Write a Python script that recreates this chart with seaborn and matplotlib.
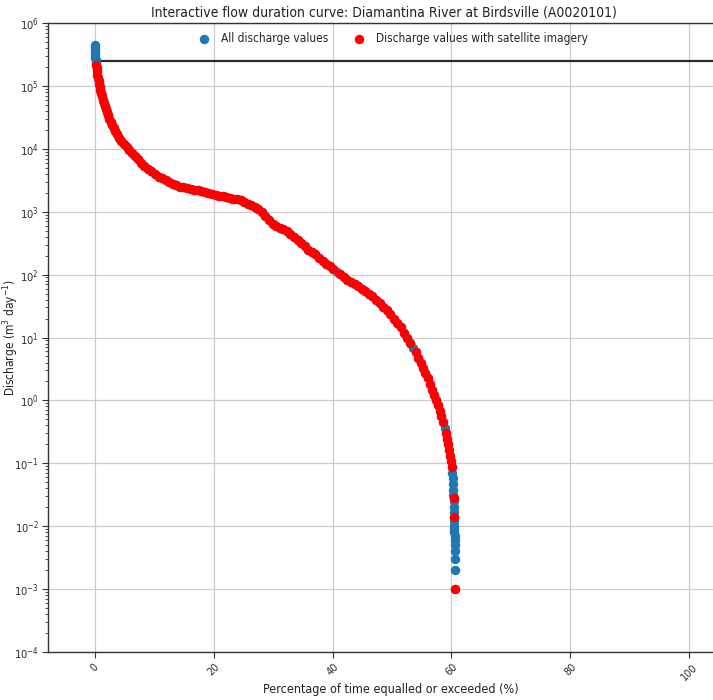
import numpy as np
import pandas as pd
import matplotlib
matplotlib.use("Agg")
import matplotlib.pyplot as plt
from matplotlib.ticker import NullFormatter
import seaborn as sns

# Flow duration curve for the Diamantina River at Birdsville (A0020101):
# percentage of time each discharge is equalled or exceeded.
exceedance_pct = [
    0.02, 0.03, 0.04, 0.06, 0.07, 0.09, 0.11, 0.13,
    0.20, 0.30, 0.36, 0.42, 0.50, 0.60, 0.70, 0.80, 0.93, 1.08,
    1.23, 1.37, 1.51, 1.65, 1.82, 1.99, 2.17, 2.39, 2.66, 2.92,
    3.18, 3.45, 3.74, 4.01, 4.45, 4.90, 5.33, 5.75,
    6.2, 6.7, 7.2, 7.7, 8.3, 8.9, 9.5, 10.1, 10.7, 11.3, 11.9, 12.5,
    13.1, 13.7, 14.3, 14.9, 15.5, 16.1, 16.7, 17.3, 17.9, 18.5, 19.1,
    19.7, 20.3, 20.9, 21.5, 22.1, 22.7, 23.3, 23.9, 24.5, 25.1, 25.7,
    26.3, 26.9, 27.5, 28.1, 28.7, 29.3, 29.9, 30.5, 31.1, 31.7, 32.3,
    32.9, 33.5, 34.1, 34.7, 35.3, 35.9, 36.5, 37.1, 37.7, 38.3, 38.9,
    39.5, 40.1, 40.7, 41.3, 41.9, 42.5, 43.1, 43.7, 44.3, 44.9, 45.5,
    46.1, 46.7, 47.3, 47.9, 48.5, 49.1, 49.7, 50.3, 50.9, 51.5, 52.0,
    52.5, 53.0, 53.5, 54.0, 54.4, 54.8, 55.2, 55.6, 56.0, 56.4, 56.8,
    57.1, 57.4, 57.7, 58.0, 58.3, 58.6, 58.85, 59.1, 59.3, 59.5, 59.65,
    59.8, 59.95, 60.05, 60.15, 60.2, 60.25, 60.3, 60.32, 60.35, 60.37,
    60.4, 60.42, 60.44, 60.46, 60.48, 60.5, 60.5, 60.52, 60.54, 60.55,
    60.56, 60.58, 60.6, 60.65,
]
discharge = [
    4.5e5, 4.1e5, 3.7e5, 3.4e5, 3.1e5, 2.8e5, 2.6e5, 2.3e5,
    2.14e5, 1.9e5, 1.7e5, 1.51e5, 1.35e5, 1.2e5, 1.07e5, 9.5e4, 8.5e4, 7.6e4,
    6.8e4, 6.0e4, 5.4e4, 4.8e4, 4.3e4, 3.8e4, 3.4e4, 3.0e4, 2.7e4, 2.4e4,
    2.14e4, 1.9e4, 1.7e4, 1.51e4, 1.35e4, 1.2e4, 1.07e4, 9.5e3,
    8.5e3, 7.6e3, 6.8e3, 6.0e3, 5.4e3, 4.8e3, 4.4e3, 4.0e3, 3.6e3, 3.4e3, 3.2e3, 2.95e3,
    2.8e3, 2.65e3, 2.5e3, 2.45e3, 2.35e3, 2.3e3, 2.25e3, 2.2e3, 2.1e3, 2.05e3, 2.0e3,
    1.9e3, 1.85e3, 1.8e3, 1.78e3, 1.74e3, 1.66e3, 1.62e3, 1.58e3, 1.51e3, 1.41e3, 1.32e3,
    1.26e3, 1.17e3, 1.1e3, 980, 850, 740, 630, 590, 560, 540, 500,
    450, 400, 355, 316, 280, 250, 230, 210, 186, 166, 148,
    135, 123, 112, 102, 91, 83, 76, 71, 65, 59, 54,
    49, 45, 40, 35, 31, 27.5, 23.4, 20, 17, 14.5, 12,
    10, 8.3, 6.9, 5.8, 4.8, 4.0, 3.3, 2.75, 2.24, 1.8, 1.48,
    1.2, 1.0, 0.83, 0.69, 0.56, 0.46, 0.37, 0.30, 0.245, 0.2, 0.16,
    0.13, 0.107, 0.087, 0.071, 0.058, 0.047, 0.038, 0.031, 0.028, 0.025,
    0.02, 0.0166, 0.014, 0.012, 0.01, 0.009, 0.008, 0.007, 0.006, 0.005,
    0.004, 0.003, 0.002, 0.001,
]
# Discharge values recorded on days with no satellite image available
no_imagery_q = [
    4.5e5, 4.1e5, 3.7e5, 3.4e5, 3.1e5, 2.8e5, 2.6e5, 2.3e5,
    112, 6.9, 0.37,
    0.071, 0.058, 0.047, 0.038, 0.031, 0.025, 0.02, 0.0166,
    0.012, 0.01, 0.009, 0.008, 0.007, 0.006, 0.005, 0.004, 0.003, 0.002,
]
reference_q = 2.5e5
x_ticks = [0, 20, 40, 60, 80, 100]

df = pd.DataFrame({"pct": exceedance_pct, "q": discharge})
df["imagery"] = ~df["q"].isin(no_imagery_q)

sns.set_style("white")
plt.rcParams["font.family"] = ["DejaVu Sans"]
plt.rcParams["font.stretch"] = "condensed"
plt.rcParams["mathtext.fontset"] = "dejavusans"

W, H = 713, 700
fig = plt.figure(figsize=(W / 100, H / 100), dpi=100)
left_px, right_px, top_px, bottom_px = 48, 720, 23, 652
ax = fig.add_axes([left_px / W, 1 - bottom_px / H,
                   (right_px - left_px) / W, (bottom_px - top_px) / H])

blue = "#1f77b4"
red = "#ff0000"
sns.scatterplot(data=df, x="pct", y="q", ax=ax, color=blue, s=46,
                linewidth=0, label="All discharge values", zorder=3)
sns.scatterplot(data=df[df["imagery"]], x="pct", y="q", ax=ax, color=red, s=46,
                linewidth=0, label="Discharge values with satellite imagery",
                zorder=4)
ax.hlines(reference_q, 0.3, 120, color="#2a2a2a", lw=1.6, zorder=2)

ax.set_yscale("log")
ax.set_ylim(1e-4, 1e6)
ax.set_xlim(-7.9, 105.2)
ax.set_xticks(x_ticks)
ax.yaxis.set_minor_formatter(NullFormatter())
ax.grid(True, which="major", color="#cccccc", lw=0.9)
ax.set_axisbelow(True)
for side in ("left", "top", "bottom", "right"):
    ax.spines[side].set_color("#333333")
    ax.spines[side].set_linewidth(1.0)

ax.tick_params(axis="y", which="major", labelsize=8, length=4, color="#333333",
               left=True, pad=2.5)
ax.tick_params(axis="y", which="minor", length=2.5, color="#333333", left=True)
ax.tick_params(axis="x", labelsize=7.8, length=4, bottom=True, color="#333333",
               labelrotation=45, pad=3)
for lab in ax.get_xticklabels() + ax.get_yticklabels():
    lab.set_color("#2a2a2a")

ax.set_title("Interactive flow duration curve: Diamantina River at Birdsville (A0020101)",
             fontsize=10, pad=4.5, color="#222222")
ax.set_xlabel("Percentage of time equalled or exceeded (%)", fontsize=9,
              color="#222222")
ax.xaxis.set_label_coords((391 - left_px) / (right_px - left_px),
                          (bottom_px - 683) / (bottom_px - top_px))
ax.set_ylabel("Discharge (m$^3$ day$^{-1}$)", fontsize=8.6, color="#222222")
ax.yaxis.set_label_coords((21 - left_px) / (right_px - left_px), 0.5)

ax.legend(loc="upper center", bbox_to_anchor=((390 - left_px) / (right_px - left_px), 1.0),
          ncol=2, frameon=False, fontsize=8.6, handletextpad=0.4,
          columnspacing=1.6, borderaxespad=0.35)

fig.savefig("out.png", dpi=100)
